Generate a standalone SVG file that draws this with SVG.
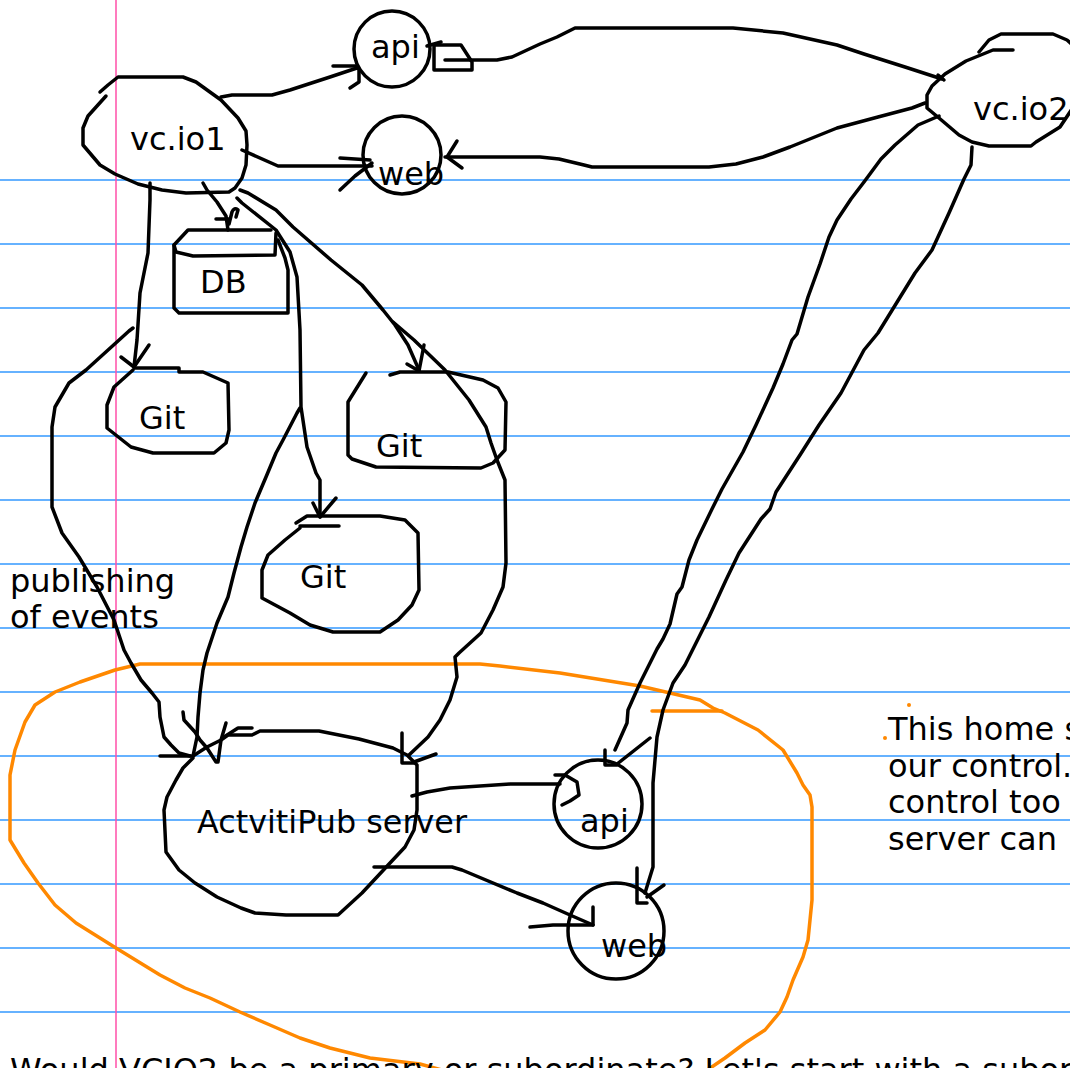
<svg xmlns="http://www.w3.org/2000/svg" width="1070" height="1068" viewBox="0 0 1070 1068">
<style>
.ink{fill:none;stroke:#000;stroke-width:3.5;stroke-linecap:round;stroke-linejoin:round}
.home{fill:none;stroke:#ff8800;stroke-width:3.5;stroke-linecap:round;stroke-linejoin:round}
.rule{stroke:#3399ff;stroke-width:1.5}
.margin{stroke:#ff4fa8;stroke-width:1.5}
text{font-family:"DejaVu Sans","Liberation Sans",sans-serif;font-size:32px;fill:#000}
</style>
<rect width="1070" height="1068" fill="#fff"/>
<g id="paper">
<line class="rule" x1="0" y1="180" x2="1070" y2="180"/>
<line class="rule" x1="0" y1="244" x2="1070" y2="244"/>
<line class="rule" x1="0" y1="308" x2="1070" y2="308"/>
<line class="rule" x1="0" y1="372" x2="1070" y2="372"/>
<line class="rule" x1="0" y1="436" x2="1070" y2="436"/>
<line class="rule" x1="0" y1="500" x2="1070" y2="500"/>
<line class="rule" x1="0" y1="564" x2="1070" y2="564"/>
<line class="rule" x1="0" y1="628" x2="1070" y2="628"/>
<line class="rule" x1="0" y1="692" x2="1070" y2="692"/>
<line class="rule" x1="0" y1="756" x2="1070" y2="756"/>
<line class="rule" x1="0" y1="820" x2="1070" y2="820"/>
<line class="rule" x1="0" y1="884" x2="1070" y2="884"/>
<line class="rule" x1="0" y1="948" x2="1070" y2="948"/>
<line class="rule" x1="0" y1="1012" x2="1070" y2="1012"/>
<line class="margin" x1="116" y1="0" x2="116" y2="1068"/>
</g>
<g id="home-boundary">
<path class="home" d="M460,1075 L420,1064 L370,1058 L330,1048 L300,1038 L270,1025 L240,1012 L210,998 L185,988 L160,975 L116,948 L76,923 L55,905 L38,883 L24,863 L10,840 L10,775 L15,750 L25,722 L35,705 L55,692 L80,682 L115,670 L140,664 L480,664 L500,666 L560,673 L640,686 L700,700 L713,708 L725,713 L758,730 L783,750 L797,773 L803,785 L810,795 L812,807 L812,900 L808,940 L803,957 L793,980 L787,997 L780,1012 L765,1030 L745,1043 L725,1058 L700,1075"/>
<path class="home" d="M652,711 L722,711"/>
<circle cx="909" cy="705" r="2" fill="#ff8800"/>
<circle cx="885" cy="738" r="2" fill="#ff8800"/>
</g>
<g id="connectors">
<path class="ink" d="M221,97 L232,95 L272,95 L290,90 L330,77 L357,68"/>
<path class="ink" d="M333,66 L357,66 L359,70 L359,82 L350,88"/>
<path class="ink" d="M242,150 L278,166 L372,166"/>
<path class="ink" d="M340,158 L370,160 M372,163 L355,176 L340,190"/>
<path class="ink" d="M445,60 L497,60 L512,57 L540,44 L557,37 L575,28 L733,28 L783,33 L837,45 L864,54 L905,67 L942,79"/>
<path class="ink" d="M938,75 L944,80"/>
<path class="ink" d="M427,46 L441,42"/>
<path class="ink" d="M925,103 L912,108 L878,117 L837,128 L790,147 L763,157 L736,164 L709,167 L592,167 L584,165 L559,159 L540,157 L445,157"/>
<path class="ink" d="M457,141 L447,157 L462,168"/>
<path class="ink" d="M939,116 L918,125 L895,145 L881,159 L864,182 L851,199 L837,220 L829,237 L820,264 L808,297 L797,334 L792,340 L783,364 L773,388 L756,425 L743,452 L722,489 L712,509 L697,540 L689,560 L682,587 L677,594 L670,624 L663,639 L657,649 L650,663 L640,683 L628,710 L627,723 L615,750"/>
<path class="ink" d="M605,750 L605,765 L617,765 M617,764 L650,738"/>
<path class="ink" d="M972,147 L971,165 L964,179 L949,213 L932,250 L915,273 L878,333 L864,350 L841,393 L819,425 L800,455 L776,492 L770,509 L761,519 L739,553 L726,580 L709,617 L685,665 L673,683 L663,710 L657,737 L653,783 L653,867 L645,893"/>
<path class="ink" d="M637,868 L637,903 L647,903 M647,897 L664,885"/>
<path class="ink" d="M412,796 L427,792 L450,788 L510,784 L560,784"/>
<path class="ink" d="M555,775 L565,775 L577,782 L579,795 L570,801 L562,805"/>
<path class="ink" d="M374,867 L452,867 L462,870 L517,893 L543,903 L570,915 L593,925"/>
<path class="ink" d="M593,907 L593,925 L553,925 L530,927"/>
<path class="ink" d="M203,183 L207,190 L217,202 L226,216 L228,230"/>
<path class="ink" d="M216,219 L229,219 M229,224 L232,212 Q234,207 238,210 L236,217"/>
<path class="ink" d="M237,198 L242,203 L276,230 L290,252 L297,277 L300,330 L301,407 L307,447 L316,473 L320,480 L320,517"/>
<path class="ink" d="M313,503 L320,517 L336,498"/>
<path class="ink" d="M300,408 L297,413 L283,440 L276,453 L266,477 L255,503 L247,527 L241,547 L234,573 L228,597 L217,623 L207,653 L203,670 L200,693 L198,717 L197,737 L193,756"/>
<path class="ink" d="M240,190 L248,193 L276,210 L293,227 L331,260 L362,285 L383,310 L395,325 L408,345 L419,370"/>
<path class="ink" d="M407,364 L419,371 L424,345"/>
<path class="ink" d="M393,322 L414,340 L445,370 L469,400 L486,427 L491,443 L497,460 L505,480 L506,563 L503,587 L493,610 L481,633 L459,653 L455,657 L457,677 L450,700 L440,720 L428,737 L409,755"/>
<path class="ink" d="M402,733 L402,763 L414,763 M414,762 L436,754"/>
<path class="ink" d="M150,183 L150,200 L148,253 L140,293 L137,340 L134,367"/>
<path class="ink" d="M121,357 L134,367 L149,345"/>
<path class="ink" d="M133,328 L129,331 L86,370 L69,383 L55,407 L52,427 L52,507 L62,533 L79,557 L97,587 L114,620 L124,650 L131,663 L141,680 L152,693 L159,702 L160,717 L164,737 L171,745 L179,753 L190,756"/>
<path class="ink" d="M160,756 L191,756"/>
<path class="ink" d="M183,712 L184,720 L195,732 L200,740 L207,748 L216,762 L218,762 L221,740 L226,723"/>
</g>
<g id="vcio1">
<path class="ink" d="M100,92 L108,85 L118,77 L183,77 L196,82 L221,100 L238,118 L246,131 L247,145 L246,165 L242,178 L235,188 L229,192 L186,193 L162,190 L138,184 L115,174 L100,165 L83,145 L83,128 L88,116 L106,96"/>
<text x="130" y="150">vc.io1</text>
</g>
<g id="api-top">
<circle class="ink" cx="392" cy="49" r="38"/>
<text x="371" y="58">api</text>
<path class="ink" d="M434,70 L434,45 L461,45 L472,62 L472,70 Z"/>
</g>
<g id="web-top">
<circle class="ink" cx="402" cy="155" r="39"/>
<text x="378" y="185">web</text>
</g>
<g id="vcio2">
<path class="ink" d="M979,52 L989,40 L1001,34 L1053,34 L1067,40 L1076,48"/>
<path class="ink" d="M1013,50 L993,50 L966,61 L945,74 L932,86 L927,95 L927,108 L939,118 L959,135 L972,142 L989,146 L1031,146 L1036,142 L1060,127 L1074,106"/>
<text x="973" y="120">vc.io2</text>
</g>
<g id="db">
<path class="ink" d="M176,252 L174,245 L188,230 L271,230 M276,233 L275,255 L193,256 L176,252"/>
<path class="ink" d="M174,245 L174,308 L179,313 L288,313 L288,270 L285,258 L278,240"/>
<text x="200" y="293">DB</text>
</g>
<g id="git1">
<path class="ink" d="M134,368 L179,368 L179,372 L203,372 L228,383 L229,430 L226,443 L214,453 L153,453 L131,447 L107,428 L107,405 L114,387 L133,370"/>
<text x="139" y="429">Git</text>
</g>
<g id="git2">
<path class="ink" d="M366,373 L348,402 L348,455 L352,459 L376,467 L481,468 L493,463 L505,450 L506,402 L498,388 L483,380 L448,372 L400,372 L390,375"/>
<text x="376" y="457">Git</text>
</g>
<g id="git3">
<path class="ink" d="M296,523 L307,516 L380,516 L405,520 L418,533 L419,590 L412,605 L398,620 L380,632 L333,632 L310,625 L290,613 L262,598 L262,570 L268,555 L285,540 L300,528"/>
<path class="ink" d="M300,526 L339,526"/>
<text x="300" y="588">Git</text>
</g>
<g id="activitypub">
<path class="ink" d="M193,756 L207,747 L221,740 L228,735 L252,735 L260,731 L319,731 L359,739 L393,748 L407,755 L417,765 L417,810 L414,830 L405,847 L390,863 L362,893 L338,915 L286,915 L255,913 L241,908 L217,897 L195,883 L179,870 L166,852 L164,810 L167,797 L176,780 L183,768 L193,758"/>
<path class="ink" d="M238,728 L252,728 M224,737 L238,728"/>
<text x="197" y="833" textLength="270" lengthAdjust="spacingAndGlyphs">ActvitiPub server</text>
</g>
<g id="api-low">
<circle class="ink" cx="598" cy="804" r="44"/>
<text x="580" y="832">api</text>
</g>
<g id="web-low">
<circle class="ink" cx="616" cy="931" r="48"/>
<text x="601" y="957">web</text>
</g>
<g id="notes">
<text x="10" y="592">publishing</text>
<text x="10" y="628">of events</text>
<text x="888" y="740">This home s</text>
<text x="888" y="777">our control.</text>
<text x="888" y="813">control too</text>
<text x="888" y="850">server can</text>
<text x="10" y="1081">Would VCIO2 be a primary or subordinate? Let's start with a subor</text>
</g>
</svg>
